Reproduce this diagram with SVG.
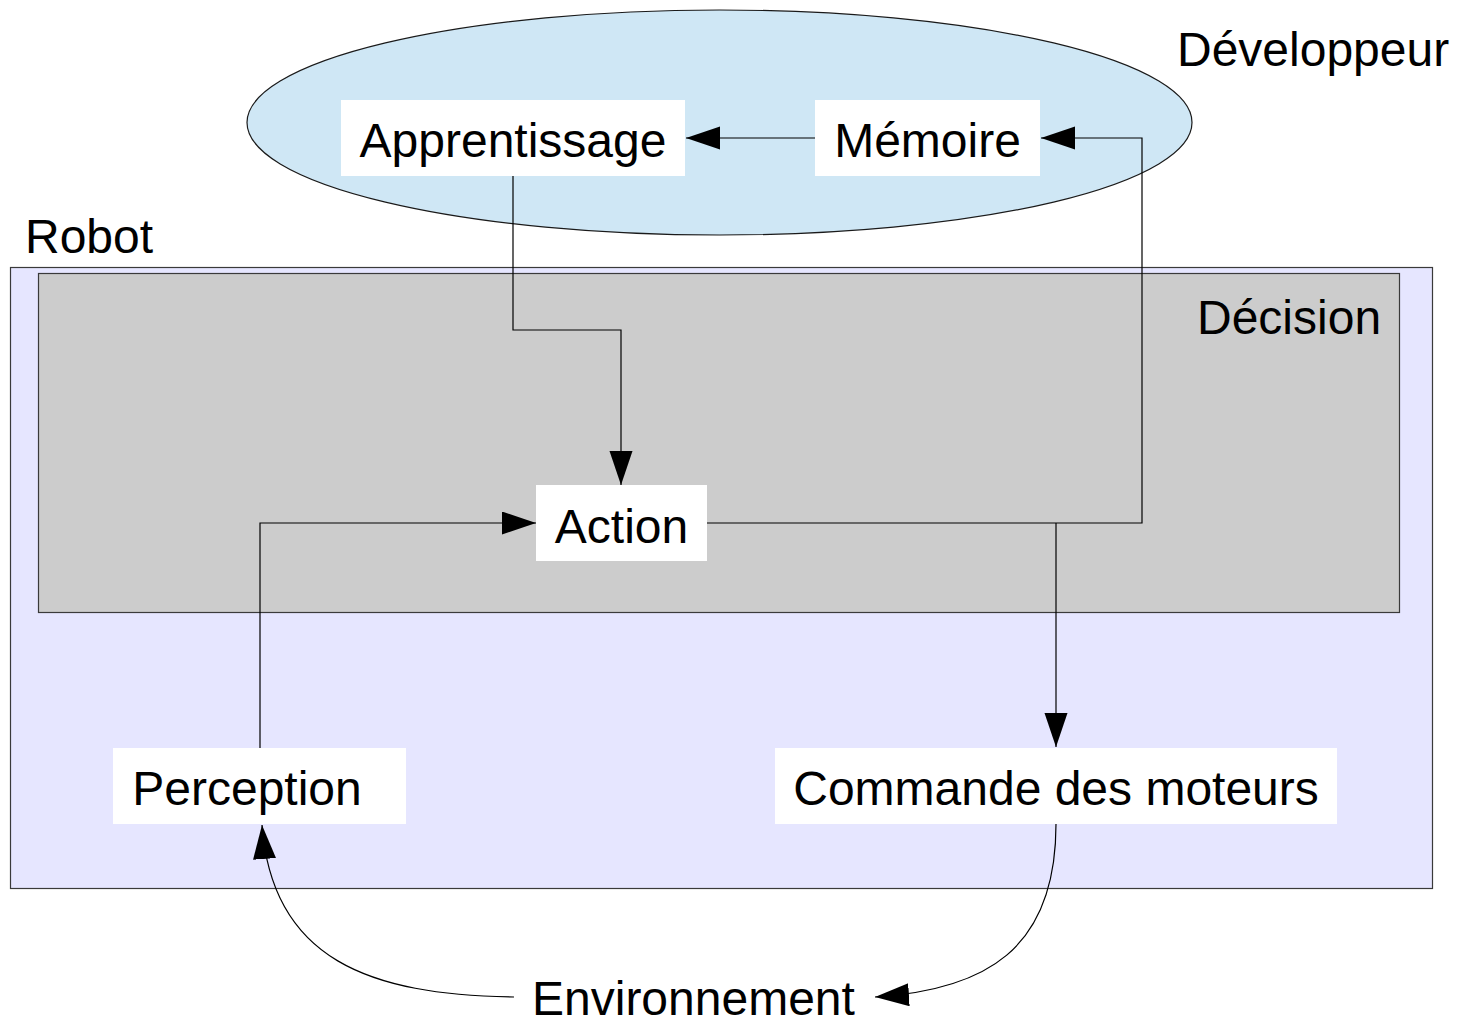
<svg xmlns="http://www.w3.org/2000/svg" width="1462" height="1020" viewBox="0 0 1462 1020">
  <style>
    .lbl { font-family: "Liberation Sans", Arial, sans-serif; font-size: 48px; fill: #000; }
    .mid { text-anchor: middle; }
    .box { fill: #ffffff; stroke: none; }
    .wire { fill: none; stroke: #000; stroke-width: 1.2; }
  </style>
  <defs>
    <marker id="arrow" markerUnits="userSpaceOnUse" markerWidth="36" markerHeight="24" refX="34" refY="11.5" orient="auto">
      <path d="M0,0 L34,11.5 L0,23 Z" fill="#000"/>
    </marker>
  </defs>

  <rect width="1462" height="1020" fill="#ffffff"/>

  <!-- Developer area -->
  <g id="developpeur">
    <ellipse cx="719.5" cy="122.5" rx="472.5" ry="112.5" fill="#cfe7f5" stroke="#1a1a1a" stroke-width="1.2"/>
    <text class="lbl" x="1177" y="66">Développeur</text>
  </g>

  <!-- Robot frame -->
  <g id="robot">
    <rect x="10.5" y="267.5" width="1422" height="621" fill="#e6e6ff" stroke="#3a3a3a" stroke-width="1.2"/>
    <text class="lbl" x="25" y="253">Robot</text>
  </g>

  <!-- Decision layer -->
  <g id="decision">
    <rect x="38.5" y="273.5" width="1361" height="339" fill="#cccccc" stroke="#3a3a3a" stroke-width="1.2"/>
    <text class="lbl" x="1197" y="334">Décision</text>
  </g>

  <!-- Connectors -->
  <g id="connectors">
    <!-- Mémoire -> Apprentissage -->
    <path class="wire" d="M815,138 L686,138" marker-end="url(#arrow)"/>
    <!-- Action -> Mémoire -->
    <path class="wire" d="M707,523 L1142,523 L1142,138 L1041,138" marker-end="url(#arrow)"/>
    <!-- Apprentissage -> Action -->
    <path class="wire" d="M513,176 L513,330 L621,330 L621,485" marker-end="url(#arrow)"/>
    <!-- Perception -> Action -->
    <path class="wire" d="M260,748 L260,523 L536,523" marker-end="url(#arrow)"/>
    <!-- Action -> Commande des moteurs -->
    <path class="wire" d="M1056,523 L1056,747" marker-end="url(#arrow)"/>
    <!-- Commande des moteurs -> Environnement -->
    <path class="wire" d="M1056,824 C1056,950 985,990 875,997" marker-end="url(#arrow)"/>
    <!-- Environnement -> Perception -->
    <path class="wire" d="M514,997 C370,995 272,960 262,825" marker-end="url(#arrow)"/>
  </g>

  <!-- Nodes -->
  <g id="apprentissage">
    <rect class="box" x="341" y="100" width="344" height="76"/>
    <text class="lbl mid" x="513" y="157">Apprentissage</text>
  </g>
  <g id="memoire">
    <rect class="box" x="815" y="100" width="225" height="76"/>
    <text class="lbl mid" x="927.5" y="157">Mémoire</text>
  </g>
  <g id="action">
    <rect class="box" x="536" y="485" width="171" height="76"/>
    <text class="lbl mid" x="621.5" y="543">Action</text>
  </g>
  <g id="perception">
    <rect class="box" x="113" y="748" width="293" height="76"/>
    <text class="lbl mid" x="247" y="805">Perception</text>
  </g>
  <g id="commande">
    <rect class="box" x="775" y="748" width="562" height="76"/>
    <text class="lbl mid" x="1056" y="805">Commande des moteurs</text>
  </g>
  <g id="environnement">
    <text class="lbl" x="532" y="1015">Environnement</text>
  </g>
</svg>
